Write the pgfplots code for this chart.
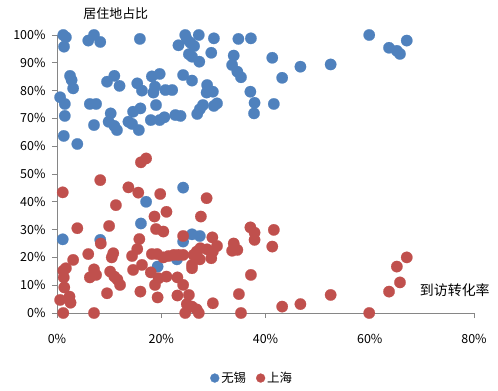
\documentclass[border=0pt]{standalone}
\usepackage{pgfplots}
\pgfplotsset{compat=1.18}
\usepackage{fontspec}
\setmainfont{Noto Sans CJK SC}
\definecolor{wx}{HTML}{4F81BD}
\definecolor{sh}{HTML}{C0504D}
\definecolor{axgray}{HTML}{868686}
\begin{document}
\begin{tikzpicture}
\useasboundingbox (-57bp,-78bp) rectangle (441bp,313bp);
\begin{axis}[at={(0,0)}, anchor=south west, scale only axis, width=417bp, height=278bp,
  xmin=0, xmax=80, ymin=0, ymax=100, clip=false,
  axis x line=bottom, axis y line=left,
  axis line style={draw=axgray, line width=0.8bp, -},
  tick align=outside, major tick length=5bp, tick style={draw=axgray, line width=0.8bp},
  minor tick num=0,
  xtick={0,20,40,60,80}, xticklabels={0\%,20\%,40\%,60\%,80\%},
  ytick={0,10,20,30,40,50,60,70,80,90,100},
  yticklabels={0\%,10\%,20\%,30\%,40\%,50\%,60\%,70\%,80\%,90\%,100\%},
  tick label style={font=\fontsize{12.5}{14}\selectfont, text=black},
  xticklabel style={yshift=-13bp},
  yticklabel style={xshift=-3bp},
  legend columns=2,
  legend style={draw=none, fill=none, at={(0.468,-0.234)}, anchor=center,
    font=\fontsize{12.5}{14}\selectfont, /tikz/every even column/.append style={column sep=8bp}},
  legend image post style={mark size=4.5bp},
]
\addplot[only marks, mark=*, mark size=5.7bp, draw=wx, fill=wx, mark options={draw=wx, fill=wx, line width=0.2bp}] table {
x y
1.2 100
1.7 99.2
1.35 95.8
6.0 98.0
7.1 100
8.3 97.5
15.9 98.6
24.6 100
24.9 98.5
27.2 100
25.6 97.2
26.3 96.0
23.3 96.3
30.1 98.8
34.8 98.6
37.2 98.8
25.3 93.1
25.9 92.2
27.3 90.4
29.6 93.6
33.9 92.6
33.6 89.2
34.6 86.8
35.3 84.8
2.5 85.3
2.8 83.8
3.1 80.8
0.6 77.6
1.5 75.2
1.5 70.9
1.3 63.7
3.9 60.8
9.6 83.2
11.0 85.3
12.0 81.7
6.3 75.2
7.5 75.2
7.1 67.6
10.3 71.8
9.9 68.8
11.0 67.3
11.5 65.8
13.7 68.8
14.6 72.4
16.0 73.6
14.4 68.0
15.7 65.8
15.4 82.6
16.3 80.0
18.2 85.1
19.7 86.0
18.8 81.4
18.5 79.3
20.8 80.2
22.1 80.2
19.0 74.8
18.0 69.4
19.7 69.4
20.6 70.4
22.7 71.2
23.7 70.9
24.2 85.6
25.9 83.6
28.8 82.0
28.7 79.3
29.9 79.6
28.0 74.8
27.4 73.3
26.9 71.6
30.1 74.5
30.7 75.4
37.1 79.6
37.9 75.6
37.8 71.8
41.3 91.8
43.2 84.6
46.7 88.6
52.5 89.4
59.9 100
63.7 95.4
65.2 94.3
65.8 93.2
67.1 98.0
41.6 75.2
1.1 26.5
8.3 26.3
17.1 40.0
16.1 32.2
24.2 45.1
25.9 28.3
27.4 27.7
24.2 25.7
23.0 19.3
19.3 16.7
};
\addlegendentry{无锡}
\addplot[only marks, mark=*, mark size=5.7bp, draw=sh, fill=sh, mark options={draw=sh, fill=sh, line width=0.2bp}] table {
x y
17.1 55.6
16.1 54.2
8.3 47.8
1.1 43.4
13.7 45.2
15.6 43.3
19.8 42.8
11.3 38.8
28.7 41.3
21.0 36.4
18.7 34.7
27.6 34.7
3.9 30.5
10.0 31.3
19.0 30.2
20.4 29.3
15.8 26.6
8.4 25.0
24.2 27.7
29.8 27.2
15.4 23.0
33.9 25.0
34.6 22.7
33.6 22.4
37.1 30.8
37.9 28.9
37.9 26.3
37.2 13.7
34.9 6.8
35.3 0
30.7 24.1
29.9 22.1
29.6 19.7
28.8 22.9
27.5 23.3
26.8 22.1
26.2 20.9
27.4 19.3
25.9 17.3
25.9 16.1
24.2 20.9
23.3 20.9
22.4 20.9
21.4 20.5
20.4 20.0
19.2 21.2
18.2 21.2
16.3 17.3
18.0 14.6
14.6 15.5
14.4 20.5
10.8 21.5
10.5 20.0
6.0 21.2
3.1 19.1
1.7 16.1
1.2 15.2
1.3 12.8
1.4 9.2
2.4 5.9
2.6 3.7
0.6 4.7
1.2 0
7.1 0
7.1 15.7
6.3 12.8
7.5 13.7
10.2 14.9
11.0 13.1
11.6 12.0
12.1 10.1
9.6 7.1
16.0 7.7
18.8 10.1
19.5 12.5
21.0 13.1
19.3 5.6
23.1 12.8
24.2 10.1
23.1 6.3
25.3 6.5
24.9 3.2
25.9 2.3
26.8 1.3
24.6 0
27.2 0
29.9 3.5
41.6 29.9
41.3 23.9
43.2 2.3
46.7 3.2
52.5 6.5
59.9 0
63.7 7.7
65.2 16.7
65.8 11.0
67.1 20.0
};
\addlegendentry{上海}
\node[font=\fontsize{13}{15}\selectfont, text=black] at (rel axis cs:0.141,1.076) {居住地占比};
\node[font=\fontsize{14}{16}\selectfont, text=black] at (rel axis cs:0.954,0.083) {到访转化率};
\end{axis}
\end{tikzpicture}
\end{document}
